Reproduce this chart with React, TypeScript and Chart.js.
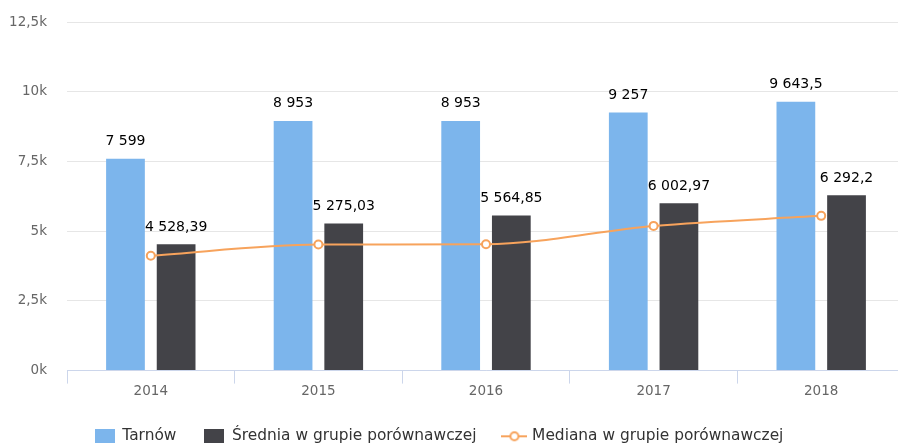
import React, { useEffect, useRef } from "react";
import { Chart, registerables } from "chart.js";

Chart.register(...registerables);

const years = ["2014", "2015", "2016", "2017", "2018"];
const tarnow = [7599, 8953, 8953, 9257, 9643.5];
const srednia = [4528.39, 5275.03, 5564.85, 6002.97, 6292.2];
const mediana = [4120, 4520, 4530, 5190, 5550];
const seriesNames = ["Tarnów", "Średnia w grupie porównawczej", "Mediana w grupie porównawczej"];
const yTicks = [0, 2500, 5000, 7500, 10000, 12500];

const BLUE = "#7cb5ec";
const DARK = "#434348";
const ORANGE = "#f7a35c";
const FONT = "'DejaVu Sans', Verdana, sans-serif";

function fmtPl(v: number): string {
  const s = String(v);
  const [intPart, dec] = s.split(".");
  const grouped = intPart.replace(/\B(?=(\d{3})+(?!\d))/g, " ");
  return dec ? grouped + "," + dec : grouped;
}

function fmtK(v: number): string {
  return String(v / 1000).replace(".", ",") + "k";
}

function rectIcon(color: string): HTMLCanvasElement {
  const c = document.createElement("canvas");
  c.width = 20;
  c.height = 15;
  const ctx = c.getContext("2d")!;
  ctx.fillStyle = color;
  ctx.fillRect(0, 0, 20, 15);
  return c;
}

function lineIcon(color: string): HTMLCanvasElement {
  const c = document.createElement("canvas");
  c.width = 26;
  c.height = 12;
  const ctx = c.getContext("2d")!;
  ctx.strokeStyle = color;
  ctx.lineWidth = 2;
  ctx.beginPath();
  ctx.moveTo(0, 6);
  ctx.lineTo(26, 6);
  ctx.stroke();
  ctx.beginPath();
  ctx.arc(13, 6, 4, 0, Math.PI * 2);
  ctx.fillStyle = "#fff";
  ctx.fill();
  ctx.stroke();
  return c;
}

const barLabels = {
  id: "barLabels",
  afterDatasetsDraw(chart: any) {
    const ctx = chart.ctx;
    ctx.save();
    ctx.font = `14px ${FONT}`;
    ctx.fillStyle = "#000";
    ctx.textAlign = "center";
    ctx.textBaseline = "alphabetic";
    chart.data.datasets.forEach((ds: any, i: number) => {
      if (ds.type !== "bar") return;
      const meta = chart.getDatasetMeta(i);
      meta.data.forEach((el: any, j: number) => {
        ctx.fillText(fmtPl(ds.data[j]), el.x, el.y - 13.5);
      });
    });
    ctx.restore();
  },
};

export default function App() {
  const ref = useRef<HTMLCanvasElement | null>(null);
  useEffect(() => {
    if (!ref.current) return;
    Chart.defaults.font.family = FONT;
    const icons = [rectIcon(BLUE), rectIcon(DARK), lineIcon(ORANGE)];
    const chart = new Chart(ref.current, {
      type: "bar",
      data: {
        labels: years,
        datasets: [
          {
            type: "bar",
            label: seriesNames[0],
            data: tarnow,
            backgroundColor: BLUE,
            borderWidth: 0,
            order: 1,
            barPercentage: 0.765,
            categoryPercentage: 0.6044,
          } as any,
          {
            type: "bar",
            label: seriesNames[1],
            data: srednia,
            backgroundColor: DARK,
            borderWidth: 0,
            order: 1,
            barPercentage: 0.765,
            categoryPercentage: 0.6044,
          } as any,
          {
            type: "line",
            label: seriesNames[2],
            data: mediana,
            borderColor: ORANGE,
            borderWidth: 2,
            pointRadius: 4,
            pointBorderWidth: 2,
            pointBackgroundColor: "#fff",
            pointBorderColor: ORANGE,
            cubicInterpolationMode: "monotone",
            order: 0,
          } as any,
        ],
      },
      options: {
        animation: false,
        responsive: false,
        devicePixelRatio: 1,
        layout: { padding: { top: 15, bottom: 5, left: 0, right: 0 } },
        plugins: {
          tooltip: { enabled: false },
          legend: {
            position: "bottom",
            labels: {
              usePointStyle: true,
              pointStyleWidth: 20,
              padding: 28,
              color: "#333",
              font: { size: 15.4, family: FONT },
              generateLabels: (chart: any) =>
                chart.data.datasets.map((ds: any, i: number) => ({
                  text: ds.label,
                  fillStyle: "transparent",
                  strokeStyle: "transparent",
                  lineWidth: 0,
                  pointStyle: icons[i],
                  hidden: false,
                  datasetIndex: i,
                  fontColor: "#333",
                })),
            },
          },
        },
        scales: {
          x: {
            offset: true,
            grid: {
              offset: true,
              drawOnChartArea: false,
              drawTicks: true,
              tickLength: 13,
              color: "#ccd6eb",
            },
            border: { display: true, color: "#ccd6eb" },
            ticks: { color: "#666", font: { size: 13.5 }, padding: 0 },
            afterFit: (s: any) => {
              s.height = 30;
            },
          },
          y: {
            min: 0,
            max: 12500,
            afterBuildTicks: (s: any) => {
              s.ticks = yTicks.map((v) => ({ value: v }));
            },
            grid: { color: "#e6e6e6", drawTicks: false },
            border: { display: false },
            ticks: {
              color: "#666",
              font: { size: 13.5 },
              padding: 20,
              callback: (v: any) => fmtK(Number(v)),
            },
            afterFit: (s: any) => {
              s.width = 100;
            },
          },
        },
      } as any,
      plugins: [barLabels],
    });
    return () => chart.destroy();
  }, []);
  return (
    <div style={{ position: "fixed", left: 0, top: 0, width: 898, height: 443, overflow: "hidden", background: "#fff" }}>
      <canvas
        ref={ref}
        width={944}
        height={465}
        style={{ position: "absolute", left: -33, top: -6, width: 944, height: 465 }}
      />
    </div>
  );
}
